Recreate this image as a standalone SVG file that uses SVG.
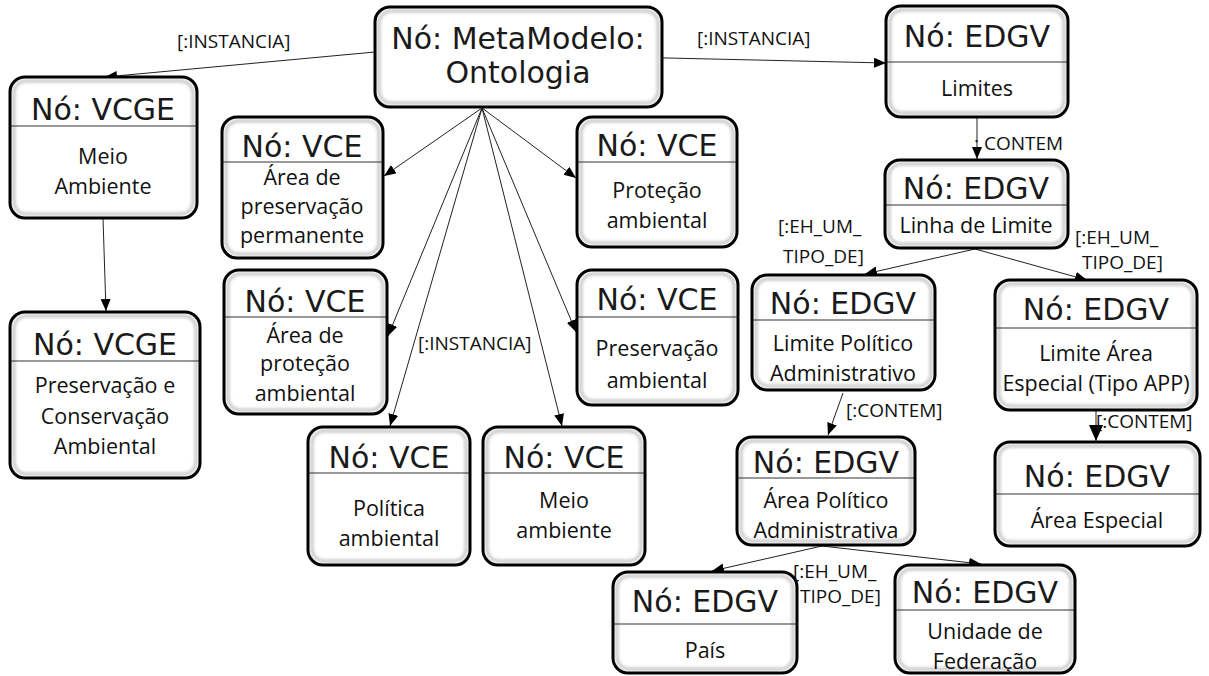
<svg xmlns="http://www.w3.org/2000/svg" width="1209" height="676" viewBox="0 0 1209 676">
<style>
.bg{fill:#fff;stroke:none}
.sh{fill:none;stroke:#c4c4c4;stroke-width:3;filter:url(#bl)}
.bd{fill:none;stroke:#000;stroke-width:3}
.dv{stroke:#333;stroke-width:1}
.hd{font-family:"DejaVu Sans",sans-serif;font-size:30px;fill:#1a1a1a;text-anchor:middle}
.bt{font-family:"Open Sans",sans-serif;font-size:21.5px;fill:#111;text-anchor:middle}
.lb{font-family:"Open Sans",sans-serif;font-size:19px;fill:#111}
.cn line{stroke:#222;stroke-width:1;marker-end:url(#ah)}
</style>
<defs>
<filter id="bl" x="-10%" y="-10%" width="120%" height="120%"><feGaussianBlur stdDeviation="1.6"/></filter>
<marker id="ah" markerUnits="userSpaceOnUse" markerWidth="13" markerHeight="11" refX="12" refY="5" orient="auto"><path d="M0,0 L12,5 L0,10 z" fill="#000"/></marker>
<marker id="ah2" markerUnits="userSpaceOnUse" markerWidth="17" markerHeight="15" refX="16" refY="7" orient="auto"><path d="M0,0 L16,7 L0,14 z" fill="#000"/></marker>
</defs>
<rect width="1209" height="676" fill="#fff"/>

<g class="cn" id="connectors">
<line x1="375" y1="52" x2="105" y2="77"/>
<line x1="580" y1="56" x2="886" y2="63"/>
<line x1="482" y1="108" x2="384" y2="176"/>
<line x1="482" y1="108" x2="576" y2="178"/>
<line x1="482" y1="108" x2="388" y2="336"/>
<line x1="482" y1="108" x2="576" y2="332"/>
<line x1="482" y1="108" x2="390" y2="426"/>
<line x1="482" y1="108" x2="562" y2="426"/>
<line x1="103" y1="218" x2="106" y2="311"/>
<line x1="977" y1="117" x2="977" y2="159"/>
<line x1="975" y1="249" x2="865" y2="274"/>
<line x1="975" y1="249" x2="1087" y2="280"/>
<line x1="843" y1="393" x2="828" y2="435"/>
<line x1="1096" y1="410" x2="1096" y2="441" style="marker-end:url(#ah2)"/>
<line x1="822" y1="546" x2="712" y2="571"/>
<line x1="822" y1="546" x2="981" y2="564"/>
</g>

<g id="labels">
<text class="lb" x="177" y="48">[:INSTANCIA]</text>
<text class="lb" x="697" y="45">[:INSTANCIA]</text>
<text class="lb" x="418" y="350">[:INSTANCIA]</text>
<text class="lb" x="974" y="150">: CONTEM</text>
<text class="lb" x="778" y="233">[:EH_UM_</text>
<text class="lb" x="783" y="263">TIPO_DE]</text>
<text class="lb" x="1075" y="244">[:EH_UM_</text>
<text class="lb" x="1082" y="269">TIPO_DE]</text>
<text class="lb" x="846" y="417">[:CONTEM]</text>
<text class="lb" x="1096" y="428">[:CONTEM]</text>
<text class="lb" x="793" y="578">[:EH_UM_</text>
<text class="lb" x="800" y="603">TIPO_DE]</text>
</g>

<g id="n-meta">
<rect class="bg" x="375" y="7" width="287" height="100" rx="15"/>
<rect class="sh" x="379" y="11" width="279" height="92" rx="12"/>
<rect class="bd" x="375" y="7" width="287" height="100" rx="15"/>
<text class="hd" x="518" y="49">Nó: MetaModelo:</text>
<text class="hd" x="518" y="83">Ontologia</text>
</g>

<g id="n-vcge1">
<rect class="bg" x="10" y="77" width="187" height="141" rx="15"/>
<rect class="sh" x="14" y="81" width="179" height="133" rx="12"/>
<line class="dv" x1="10" y1="126" x2="197" y2="126"/>
<rect class="bd" x="10" y="77" width="187" height="141" rx="15"/>
<text class="hd" x="103" y="120">Nó: VCGE</text>
<text class="bt" x="103" y="164">Meio</text>
<text class="bt" x="103" y="194">Ambiente</text>
</g>

<g id="n-vcge2">
<rect class="bg" x="10" y="312" width="190" height="166" rx="15"/>
<rect class="sh" x="14" y="316" width="182" height="158" rx="12"/>
<line class="dv" x1="10" y1="361" x2="200" y2="361"/>
<rect class="bd" x="10" y="312" width="190" height="166" rx="15"/>
<text class="hd" x="105" y="355">Nó: VCGE</text>
<text class="bt" x="105" y="393">Preservação e</text>
<text class="bt" x="105" y="424">Conservação</text>
<text class="bt" x="105" y="454">Ambiental</text>
</g>

<g id="n-app">
<rect class="bg" x="222" y="117" width="161" height="141" rx="15"/>
<rect class="sh" x="226" y="121" width="153" height="133" rx="12"/>
<line class="dv" x1="222" y1="162" x2="383" y2="162"/>
<rect class="bd" x="222" y="117" width="161" height="141" rx="15"/>
<text class="hd" x="302" y="157">Nó: VCE</text>
<text class="bt" x="302" y="185">Área de</text>
<text class="bt" x="302" y="214">preservação</text>
<text class="bt" x="302" y="243">permanente</text>
</g>

<g id="n-aprot">
<rect class="bg" x="224" y="270" width="163" height="144" rx="15"/>
<rect class="sh" x="228" y="274" width="155" height="136" rx="12"/>
<line class="dv" x1="224" y1="317" x2="387" y2="317"/>
<rect class="bd" x="224" y="270" width="163" height="144" rx="15"/>
<text class="hd" x="305" y="312">Nó: VCE</text>
<text class="bt" x="305" y="343">Área de</text>
<text class="bt" x="305" y="371">proteção</text>
<text class="bt" x="305" y="401">ambiental</text>
</g>

<g id="n-prot">
<rect class="bg" x="577" y="117" width="160" height="130" rx="15"/>
<rect class="sh" x="581" y="121" width="152" height="122" rx="12"/>
<line class="dv" x1="577" y1="162" x2="737" y2="162"/>
<rect class="bd" x="577" y="117" width="160" height="130" rx="15"/>
<text class="hd" x="657" y="156">Nó: VCE</text>
<text class="bt" x="657" y="198">Proteção</text>
<text class="bt" x="657" y="228">ambiental</text>
</g>

<g id="n-pres">
<rect class="bg" x="577" y="270" width="161" height="135" rx="15"/>
<rect class="sh" x="581" y="274" width="153" height="127" rx="12"/>
<line class="dv" x1="577" y1="317" x2="738" y2="317"/>
<rect class="bd" x="577" y="270" width="161" height="135" rx="15"/>
<text class="hd" x="657" y="310">Nó: VCE</text>
<text class="bt" x="657" y="356">Preservação</text>
<text class="bt" x="657" y="388">ambiental</text>
</g>

<g id="n-pol">
<rect class="bg" x="308" y="427" width="162" height="138" rx="15"/>
<rect class="sh" x="312" y="431" width="154" height="130" rx="12"/>
<line class="dv" x1="308" y1="473" x2="470" y2="473"/>
<rect class="bd" x="308" y="427" width="162" height="138" rx="15"/>
<text class="hd" x="389" y="468">Nó: VCE</text>
<text class="bt" x="389" y="516">Política</text>
<text class="bt" x="389" y="546">ambiental</text>
</g>

<g id="n-meio">
<rect class="bg" x="483" y="427" width="162" height="138" rx="15"/>
<rect class="sh" x="487" y="431" width="154" height="130" rx="12"/>
<line class="dv" x1="483" y1="473" x2="645" y2="473"/>
<rect class="bd" x="483" y="427" width="162" height="138" rx="15"/>
<text class="hd" x="564" y="468">Nó: VCE</text>
<text class="bt" x="564" y="508">Meio</text>
<text class="bt" x="564" y="538">ambiente</text>
</g>

<g id="n-limites">
<rect class="bg" x="886" y="6" width="182" height="111" rx="15"/>
<rect class="sh" x="890" y="10" width="174" height="103" rx="12"/>
<line class="dv" x1="886" y1="62" x2="1068" y2="62"/>
<rect class="bd" x="886" y="6" width="182" height="111" rx="15"/>
<text class="hd" x="977" y="47">Nó: EDGV</text>
<text class="bt" x="977" y="96">Limites</text>
</g>

<g id="n-linha">
<rect class="bg" x="885" y="160" width="183" height="88" rx="15"/>
<rect class="sh" x="889" y="164" width="175" height="80" rx="12"/>
<line class="dv" x1="885" y1="205" x2="1068" y2="205"/>
<rect class="bd" x="885" y="160" width="183" height="88" rx="15"/>
<text class="hd" x="976" y="199">Nó: EDGV</text>
<text class="bt" x="976" y="233">Linha de Limite</text>
</g>

<g id="n-limpol">
<rect class="bg" x="752" y="275" width="183" height="115" rx="15"/>
<rect class="sh" x="756" y="279" width="175" height="107" rx="12"/>
<line class="dv" x1="752" y1="320" x2="935" y2="320"/>
<rect class="bd" x="752" y="275" width="183" height="115" rx="15"/>
<text class="hd" x="843" y="314">Nó: EDGV</text>
<text class="bt" x="843" y="351">Limite Político</text>
<text class="bt" x="843" y="381">Administrativo</text>
</g>

<g id="n-limesp">
<rect class="bg" x="995" y="280" width="202" height="130" rx="15"/>
<rect class="sh" x="999" y="284" width="194" height="122" rx="12"/>
<line class="dv" x1="995" y1="328" x2="1197" y2="328"/>
<rect class="bd" x="995" y="280" width="202" height="130" rx="15"/>
<text class="hd" x="1096" y="320">Nó: EDGV</text>
<text class="bt" x="1096" y="361">Limite Área</text>
<text class="bt" x="1096" y="391">Especial (Tipo APP)</text>
</g>

<g id="n-areapol">
<rect class="bg" x="737" y="437" width="178" height="108" rx="15"/>
<rect class="sh" x="741" y="441" width="170" height="100" rx="12"/>
<line class="dv" x1="737" y1="478" x2="915" y2="478"/>
<rect class="bd" x="737" y="437" width="178" height="108" rx="15"/>
<text class="hd" x="826" y="473">Nó: EDGV</text>
<text class="bt" x="826" y="508">Área Político</text>
<text class="bt" x="826" y="538">Administrativa</text>
</g>

<g id="n-areaesp">
<rect class="bg" x="995" y="442" width="205" height="104" rx="15"/>
<rect class="sh" x="999" y="446" width="197" height="96" rx="12"/>
<line class="dv" x1="995" y1="494" x2="1200" y2="494"/>
<rect class="bd" x="995" y="442" width="205" height="104" rx="15"/>
<text class="hd" x="1097" y="487">Nó: EDGV</text>
<text class="bt" x="1097" y="528">Área Especial</text>
</g>

<g id="n-pais">
<rect class="bg" x="613" y="572" width="184" height="101" rx="15"/>
<rect class="sh" x="617" y="576" width="176" height="93" rx="12"/>
<line class="dv" x1="613" y1="624" x2="797" y2="624"/>
<rect class="bd" x="613" y="572" width="184" height="101" rx="15"/>
<text class="hd" x="705" y="612">Nó: EDGV</text>
<text class="bt" x="705" y="658">País</text>
</g>

<g id="n-uf">
<rect class="bg" x="895" y="565" width="180" height="108" rx="15"/>
<rect class="sh" x="899" y="569" width="172" height="100" rx="12"/>
<line class="dv" x1="895" y1="610" x2="1075" y2="610"/>
<rect class="bd" x="895" y="565" width="180" height="108" rx="15"/>
<text class="hd" x="985" y="603">Nó: EDGV</text>
<text class="bt" x="985" y="639">Unidade de</text>
<text class="bt" x="985" y="669">Federação</text>
</g>
</svg>
